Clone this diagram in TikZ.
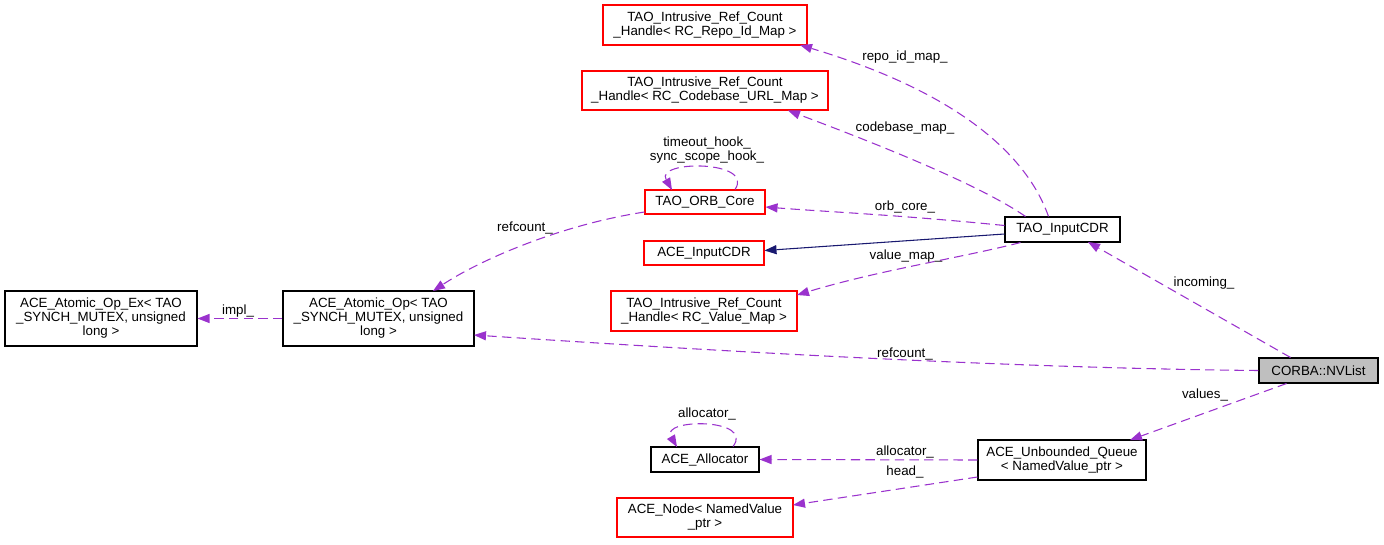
\documentclass[tikz,border=0pt]{standalone}
\usepackage{fontspec}
\setmainfont{Liberation Sans}
\usetikzlibrary{arrows.meta}
\definecolor{edgepurple}{HTML}{9A32CD}
\definecolor{inhnavy}{HTML}{191970}
\definecolor{boxred}{HTML}{FF0000}
\definecolor{boxgray}{HTML}{BFBFBF}
\begin{document}
\begin{tikzpicture}[x=0.75pt,y=-0.75pt,
  font=\fontsize{10}{10.5}\selectfont,
  cls/.style={draw=black,line width=0.8pt,inner sep=0pt,align=center,fill=white},
  redcls/.style={cls,draw=boxred},
  curcls/.style={cls,fill=boxgray},
  uses/.style={draw=edgepurple,line width=0.8pt,dash pattern=on 7pt off 4pt,
    -{Triangle[length=9pt,width=7pt,fill=edgepurple,line width=0pt]}},
  inherit/.style={draw=inhnavy,line width=0.8pt,
    -{Triangle[length=9pt,width=7pt,fill=inhnavy,line width=0pt]}},
  lbl/.style={inner sep=0pt,align=center,fill=none}]
\useasboundingbox (0,0) rectangle (1384,544);

% nodes
\node[redcls,minimum width=204*0.75pt,minimum height=40*0.75pt] (repo) at (705,25)
  {TAO\_Intrusive\_Ref\_Count\\\_Handle< RC\_Repo\_Id\_Map >};
\node[redcls,minimum width=246*0.75pt,minimum height=39*0.75pt] (codebase) at (705,90.5)
  {TAO\_Intrusive\_Ref\_Count\\\_Handle< RC\_Codebase\_URL\_Map >};
\node[redcls,minimum width=120*0.75pt,minimum height=24*0.75pt] (orb) at (705,202)
  {TAO\_ORB\_Core};
\node[redcls,minimum width=120*0.75pt,minimum height=24*0.75pt] (acecdr) at (704,253)
  {ACE\_InputCDR};
\node[redcls,minimum width=186*0.75pt,minimum height=40*0.75pt] (valuemap) at (704,311)
  {TAO\_Intrusive\_Ref\_Count\\\_Handle< RC\_Value\_Map >};
\node[cls,minimum width=115*0.75pt,minimum height=25*0.75pt] (tcdr) at (1062.5,229.5)
  {TAO\_InputCDR};
\node[cls,minimum width=192*0.75pt,minimum height=55*0.75pt] (atomex) at (101,318.5)
  {ACE\_Atomic\_Op\_Ex< TAO\\\_SYNCH\_MUTEX, unsigned\\long >};
\node[cls,minimum width=191*0.75pt,minimum height=55*0.75pt] (atom) at (378.5,318.5)
  {ACE\_Atomic\_Op< TAO\\\_SYNCH\_MUTEX, unsigned\\long >};
\node[curcls,minimum width=119*0.75pt,minimum height=25*0.75pt] (nvlist) at (1318.5,370.5)
  {CORBA::NVList};
\node[cls,minimum width=108*0.75pt,minimum height=25*0.75pt] (alloc) at (705,459.5)
  {ACE\_Allocator};
\node[cls,minimum width=168*0.75pt,minimum height=40*0.75pt] (uq) at (1062,460)
  {ACE\_Unbounded\_Queue\\< NamedValue\_ptr >};
\node[redcls,minimum width=176*0.75pt,minimum height=39*0.75pt] (anode) at (705,517.5)
  {ACE\_Node< NamedValue\\\_ptr >};

% edges
\draw[uses] (tcdr.north) ++(-14,0) .. controls (1025,150) and (950,90) .. (800,45);
\node[lbl] (l1) at (905,57) {repo\_id\_map\_};
\draw[uses] (tcdr.north) ++(-37,0) .. controls (980,185) and (880,145) .. (788,110.5);
\node[lbl] (l2) at (905,128) {codebase\_map\_};
\draw[uses] (tcdr.west) ++(0,-4) .. controls (900,215) and (830,212) .. (orb.east |- 0,207);
\node[lbl] (l3) at (905,207) {orb\_core\_};
\draw[inherit] (tcdr.west) ++(0,4.5) -- (acecdr.east |- 0,250.5);
\draw[uses] (tcdr.south) ++(-42,0) .. controls (960,258) and (880,270) .. (797,295);
\node[lbl] (l4) at (906,256) {value\_map\_};
\draw[uses] (orb.north) ++(30,0) .. controls (755,160) and (655,160) .. (672,190);
\node[lbl] (l5) at (707,150) {timeout\_hook\_\\sync\_scope\_hook\_};
\draw[uses] (orb.west) ++(0,10) .. controls (560,225) and (480,260) .. (433,291);
\node[lbl] (l6) at (525,228) {refcount\_};
\draw[uses] (atom.west) -- (atomex.east);
\node[lbl] (l7) at (238,311) {impl\_};
\draw[uses] (nvlist.north) ++(-28,0) -- (1088,242);
\node[lbl] (l8) at (1204,283) {incoming\_};
\draw[uses] (nvlist.west) .. controls (1000,368) and (700,350) .. (474,335);
\node[lbl] (l9) at (905,354) {refcount\_};
\draw[uses] (nvlist.south) ++(-32,0) -- (1130,440);
\node[lbl] (l10) at (1205,395) {values\_};
\draw[uses] (alloc.north) ++(28,0) .. controls (755,418) and (660,418) .. (677,447);
\node[lbl] (l11) at (707,414) {allocator\_};
\draw[uses] (uq.west) -- (alloc.east);
\node[lbl] (l12) at (905,452) {allocator\_};
\draw[uses] (uq.west) ++(0,17) -- (793,505);
\node[lbl] (l13) at (905,472) {head\_};
\end{tikzpicture}
\end{document}
